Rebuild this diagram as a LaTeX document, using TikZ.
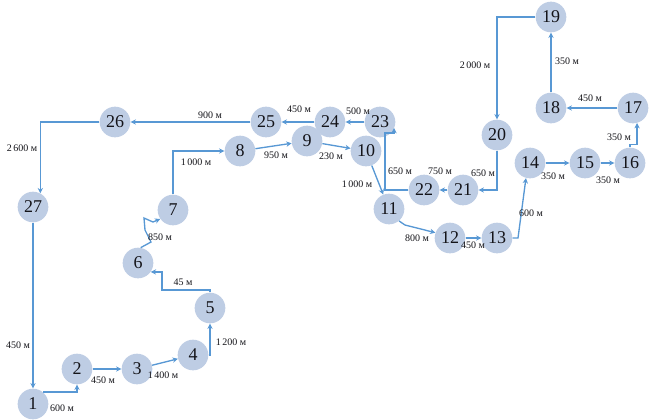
\documentclass[tikz,border=0pt]{standalone}
\usepackage{fontspec}
\setmainfont{Liberation Serif}
\usetikzlibrary{arrows.meta}
\definecolor{cNode}{RGB}{190,205,228}
\definecolor{cLink}{RGB}{88,152,212}
\definecolor{cText}{RGB}{20,20,25}
\tikzset{
    stop/.style={circle, minimum size=23pt, inner sep=0pt, fill=cNode, text=cText, font=\fontsize{13.5}{14}\selectfont},
    link/.style={-{Stealth[length=4pt, width=4pt]}, cLink, line width=1pt},
    dist/.style={text=cText, font=\fontsize{7.5}{8}\selectfont, inner sep=1pt},
}
\begin{document}
\begin{tikzpicture}[x=0.75pt, y=-0.75pt]
    \useasboundingbox (0,0) rectangle (649,419);
    % stops
    \node[stop] (n1) at (33,404) {1};
    \node[stop] (n2) at (77,369) {2};
    \node[stop] (n3) at (137,369) {3};
    \node[stop] (n4) at (193,355) {4};
    \node[stop] (n5) at (210,308) {5};
    \node[stop] (n6) at (138,263) {6};
    \node[stop] (n7) at (173,210) {7};
    \node[stop] (n8) at (240,151) {8};
    \node[stop] (n9) at (307,141) {9};
    \node[stop] (n10) at (366,151) {10};
    \node[stop] (n11) at (389,209) {11};
    \node[stop] (n12) at (450,238) {12};
    \node[stop] (n13) at (497,238) {13};
    \node[stop] (n14) at (530,163) {14};
    \node[stop] (n15) at (585,163) {15};
    \node[stop] (n16) at (630,163) {16};
    \node[stop] (n17) at (633,108) {17};
    \node[stop] (n18) at (551,108) {18};
    \node[stop] (n19) at (551,17) {19};
    \node[stop] (n20) at (497,135) {20};
    \node[stop] (n21) at (463,190) {21};
    \node[stop] (n22) at (424,190) {22};
    \node[stop] (n23) at (380,122) {23};
    \node[stop] (n24) at (330,122) {24};
    \node[stop] (n25) at (266,122) {25};
    \node[stop] (n26) at (115,122) {26};
    \node[stop] (n27) at (33,207) {27};
    \coordinate (t23) at (394,128);
    % route
    \draw[link] (n1.50) -| (n2.south);
    \draw[link] (n2) -- (n3);
    \draw[link] (n3) -- (n4);
    \draw[link] (n4.east) -| (n5.south);
    \draw[link] (n5.north) |- (162,290) |- (n6.-35);
    \draw[link] (n6.80) -- (151,242) -- (145,230) -- (144,218) -- (153,222) -- (n7.215);
    \draw[link] (n7.north) |- (n8.west);
    \draw[link] (n8) -- (n9);
    \draw[link] (n9) -- (n10);
    \draw[link] (n10) -- (n11);
    \draw[link] (n11.-50) -- (405,225) -- (n12.160);
    \draw[link] (n12) -- (n13);
    \draw[link] (n13.east) -- (518,238) -- (n14.-105);
    \draw[link] (n14) -- (n15);
    \draw[link] (n15) -- (n16);
    \draw[link] (n16.north) -- ++(0,-3) -| (n17.-75);
    \draw[link] (n17) -- (n18);
    \draw[link] (n18) -- (n19);
    \draw[link] (n19.west) -| (n20.north);
    \draw[link] (n20.south) |- (n21.east);
    \draw[link] (n21) -- (n22);
    \draw[link] (n22.west) -| (385,133) -| (t23);
    \draw[link] (n23) -- (n24);
    \draw[link] (n24) -- (n25);
    \draw[link] (n25) -- (n26);
    \draw[link] (n26.west) -| (n27.62);
    \draw[link] (n27) -- (n1);
    % distances
    \node[dist] (d1) at (62,408) {600 м};
    \node[dist] (d2) at (103,380) {450 м};
    \node[dist] (d3) at (163,375) {1\,400 м};
    \node[dist] (d4) at (231,342) {1\,200 м};
    \node[dist] (d5) at (183,282) {45 м};
    \node[dist] (d6) at (160,237) {850 м};
    \node[dist] (d7) at (196,162) {1\,000 м};
    \node[dist] (d8) at (276,155) {950 м};
    \node[dist] (d9) at (331,156) {230 м};
    \node[dist] (d10) at (357,184) {1\,000 м};
    \node[dist] (d11) at (417,238) {800 м};
    \node[dist] (d12) at (473,245) {450 м};
    \node[dist] (d13) at (531,213) {600 м};
    \node[dist] (d14) at (553,176) {350 м};
    \node[dist] (d15) at (608,180) {350 м};
    \node[dist] (d16) at (619,137) {350 м};
    \node[dist] (d17) at (590,98) {450 м};
    \node[dist] (d18) at (567,61) {350 м};
    \node[dist] (d19) at (475,65) {2\,000 м};
    \node[dist] (d20) at (483,173) {650 м};
    \node[dist] (d21) at (440,171) {750 м};
    \node[dist] (d22) at (400,171) {650 м};
    \node[dist] (d23) at (358,111) {500 м};
    \node[dist] (d24) at (299,109) {450 м};
    \node[dist] (d25) at (210,115) {900 м};
    \node[dist] (d26) at (22,148) {2\,600 м};
    \node[dist] (d27) at (18,345) {450 м};
\end{tikzpicture}
\end{document}
